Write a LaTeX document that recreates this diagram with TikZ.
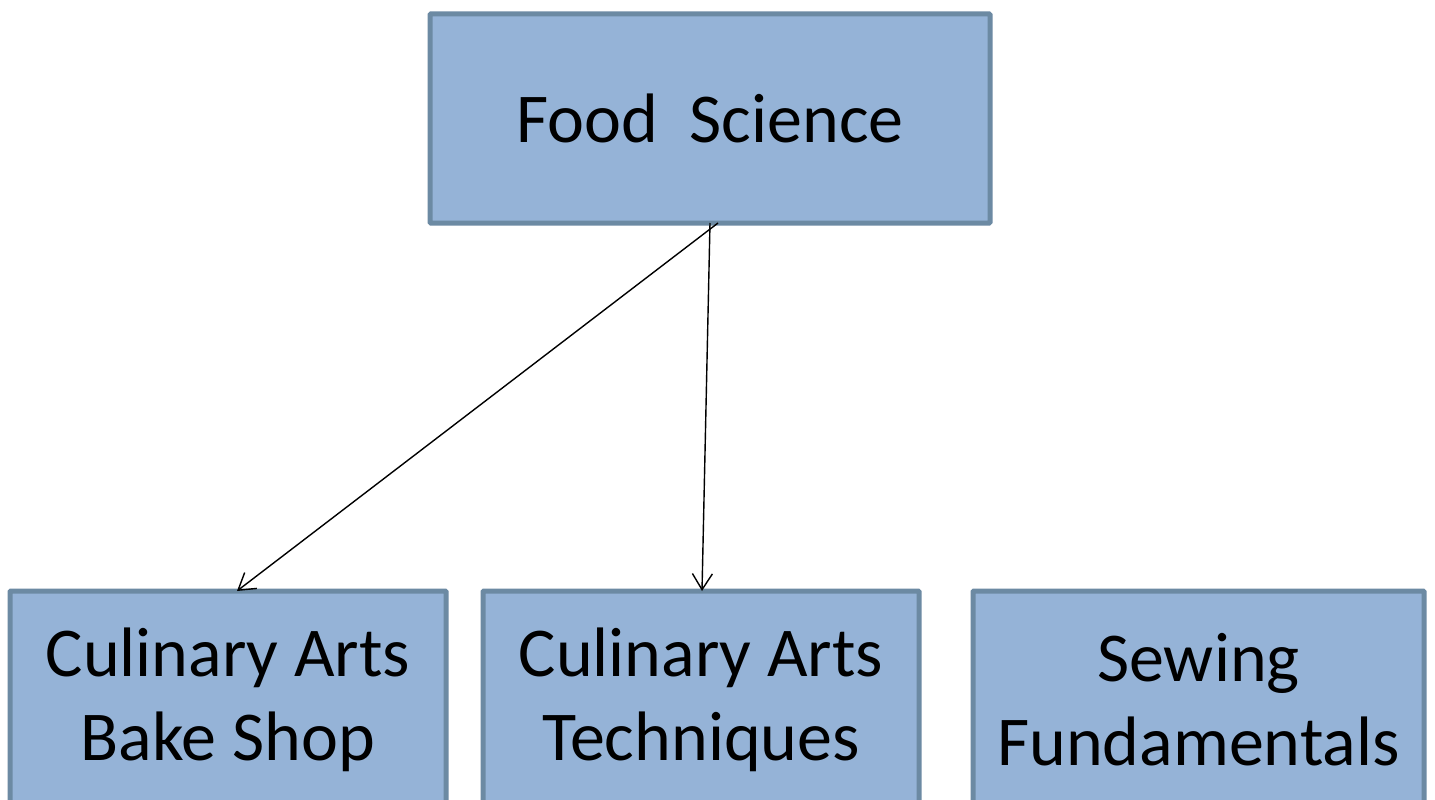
\documentclass[tikz,border=0pt]{standalone}
\usepackage{fontspec}
\setmainfont{Carlito}
\usetikzlibrary{arrows.meta,calc}
\definecolor{boxfill}{HTML}{95B3D7}
\definecolor{boxline}{HTML}{6C8AA3}
\begin{document}
\begin{tikzpicture}[x=1pt,y=-1pt,
  box/.style={draw=boxline,fill=boxfill,line width=5pt,rounded corners=1pt,
    outer sep=0pt,inner sep=0pt,align=center,
    font=\fontsize{70}{84}\selectfont},
  conn/.style={line width=1.4pt,-{Straight Barb[length=16pt,width=20pt,line width=1.4pt]}}]
\useasboundingbox (0,0) rectangle (1435,800);
\clip (0,0) rectangle (1435,800);
\fill[white] (0,0) rectangle (1435,800);
\node[box,minimum width=560pt,minimum height=209pt] (top) at (710,118.5) {Food\ \ Science};
\node[box,minimum width=436pt,minimum height=218pt] (b1) at (228,700) {Culinary Arts\\Bake Shop};
\node[box,minimum width=436pt,minimum height=218pt] (b2) at (701,700) {Culinary Arts\\Techniques};
\node[box,minimum width=451pt,minimum height=218pt] (b3) at (1198.5,700) {Sewing\\Fundamentals};
\draw[conn] ([xshift=8pt]top.south) -- ([xshift=9pt]b1.north);
\draw[conn] (top.south) -- ([xshift=1pt]b2.north);
\end{tikzpicture}
\end{document}
